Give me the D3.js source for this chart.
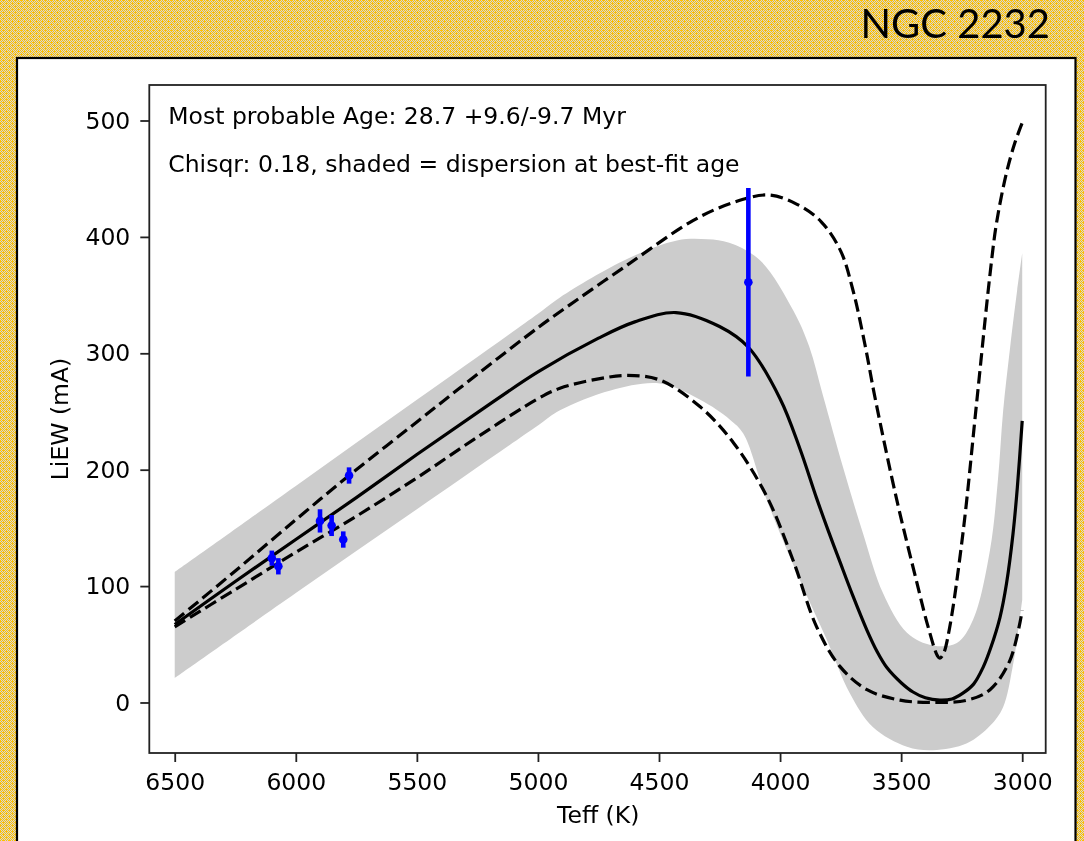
<!DOCTYPE html>
<html>
<head>
<meta charset="utf-8">
<script src="https://cdn.jsdelivr.net/npm/d3@7"></script>
<style>
  body { margin: 0; }
  text { font-family: "DejaVu Sans", sans-serif; }
  #my_dataviz { position: relative; width: 1084px; height: 841px; }
  #my_dataviz canvas, #my_dataviz svg { position: absolute; left: 0; top: 0; display: block; }
</style>
</head>
<body>
<div id="my_dataviz"></div>
<script>
// model curves, [Teff, LiEW]
var bestFit = [[6500,67],[6250,104],[6000,140],[5750,176],[5500,213],[5250,249],[5000,284],[4750,313],[4600,327],[4430,335],[4250,323],[4130,305],[4000,261],[3918,218],[3850,176],[3800,147],[3753,121],[3700,92],[3641,62],[3600,44],[3559,30],[3500,17],[3451,9],[3400,4],[3340,2],[3290,3],[3245,8],[3200,16],[3162,30],[3130,47],[3092,73],[3065,102],[3038,145],[3020,185],[3000,242]];
var upperAge = [[6500,70],[6250,113],[6000,157],[5780,195],[5500,241],[5250,282],[5000,322],[4900,337],[4630,376],[4360,414],[4200,429],[4050,436],[3930,428],[3830,413],[3750,388],[3700,355],[3650,308],[3608,262],[3518,174],[3435,103],[3390,66],[3350,40],[3340,38],[3325,42],[3300,64],[3245,145],[3187,260],[3134,366],[3106,412],[3065,455],[3030,481],[3000,498]];
var lowerAge = [[6500,65],[6250,97],[6000,129],[5750,160],[5500,193],[5250,228],[5000,261],[4909,270],[4750,278],[4630,281],[4496,277],[4330,254],[4192,223],[4055,177],[3946,122],[3849,65],[3753,31],[3641,11],[3505,2],[3369,0],[3228,2],[3133,11],[3051,36],[3000,79]];

// shaded dispersion band
var bandHigh = [[6500,112],[6000,186],[5500,260],[5000,334],[4909,348],[4632,381],[4426,397],[4300,398],[4210,395],[4083,380],[3946,337],[3880,306],[3822,263],[3740,202],[3657,145],[3575,94],[3476,60],[3369,49],[3270,51],[3203,71],[3133,131],[3100,192],[3079,250],[3050,305],[3021,354],[3000,386]];
var bandLow = [[6500,21],[6000,94],[5500,166],[5000,238],[4909,251],[4700,268],[4496,274],[4330,260],[4207,243],[4152,231],[4055,174],[3918,105],[3807,54],[3712,8],[3617,-21],[3476,-38],[3369,-41],[3228,-35],[3133,-20],[3079,-4],[3040,30],[3021,55],[3000,88]];

// cluster stars
var teffObs = [6099, 6072, 5900, 5852, 5804, 5780, 4131];
var liObs   = [124, 117, 156, 152, 140, 195, 361];
var liErr   = [6.5, 7, 10, 9, 7, 7, 81];

var xTicks = [6500, 6000, 5500, 5000, 4500, 4000, 3500, 3000];
var yTicks = [0, 100, 200, 300, 400, 500];

var W = 1084, H = 841;
var margin = {top: 85, right: W - 1045.7, bottom: H - 753, left: 149.3},
    width = W - margin.left - margin.right,
    height = H - margin.top - margin.bottom;

// checkered yellow slide background, pixel by pixel
var cv = d3.select("#my_dataviz").append("canvas")
    .attr("width", W).attr("height", H).node();
var ctx = cv.getContext("2d");
var img = ctx.createImageData(W, H);
for (var py = 0; py < H; py++) {
  for (var px = 0; px < W; px++) {
    var k = (py * W + px) * 4;
    var yellow = (px + py) % 2 === 0 || (px % 6 === 3 && py % 6 === 0) || (px % 6 === 0 && py % 6 === 3);
    img.data[k]     = yellow ? 255 : 210;
    img.data[k + 1] = yellow ? 192 : 214;
    img.data[k + 2] = yellow ? 0 : 220;
    img.data[k + 3] = 255;
  }
}
ctx.putImageData(img, 0, 0);

var root = d3.select("#my_dataviz")
  .append("svg")
    .attr("width", W)
    .attr("height", H);

root.append("text")
    .attr("x", 1050).attr("y", 38)
    .attr("text-anchor", "end")
    .style("font-family", "Lato, 'Open Sans', sans-serif")
    .style("font-size", "40px")
    .attr("fill", "#000")
    .text("NGC 2232");

root.append("rect")
    .attr("x", 17).attr("y", 58)
    .attr("width", 1058.5).attr("height", 800)
    .attr("fill", "#fff")
    .attr("stroke", "#000")
    .attr("stroke-width", 2.2);

var svg = root.append("g")
    .attr("transform", "translate(" + margin.left + "," + margin.top + ")");

var x = d3.scaleLinear()
    .domain([6605, 2903])
    .range([0, width]);
var y = d3.scaleLinear()
    .domain([-43.4, 530.5])
    .range([height, 0]);

var line = d3.line()
    .x(function(d) { return x(d[0]); })
    .y(function(d) { return y(d[1]); })
    .curve(d3.curveCatmullRom.alpha(0.5));

// band = upper edge then lower edge back
svg.append("path")
    .attr("d", line(bandHigh) + "L" + line(bandLow.slice().reverse()).slice(1) + "Z")
    .attr("fill", "#cccccc")
    .attr("stroke", "none");

svg.append("path")
    .attr("d", line(bestFit))
    .attr("fill", "none")
    .attr("stroke", "#000")
    .attr("stroke-width", 3.2);

[upperAge, lowerAge].forEach(function(s) {
  svg.append("path")
      .attr("d", line(s))
      .attr("fill", "none")
      .attr("stroke", "#000")
      .attr("stroke-width", 3.2)
      .attr("stroke-dasharray", "12.5,5.5");
});

// error bars
teffObs.forEach(function(t, i) {
  svg.append("line")
      .attr("x1", x(t)).attr("x2", x(t))
      .attr("y1", y(liObs[i] - liErr[i]))
      .attr("y2", y(liObs[i] + liErr[i]))
      .attr("stroke", "#0000ff")
      .attr("stroke-width", 4.6);
  svg.append("circle")
      .attr("cx", x(t)).attr("cy", y(liObs[i]))
      .attr("r", 4.3)
      .attr("fill", "#0000ff");
});

// axes
var xAxis = svg.append("g")
    .attr("transform", "translate(0," + height + ")")
    .call(d3.axisBottom(x).tickValues(xTicks).tickFormat(d3.format("d")).tickSize(9).tickPadding(11));
var yAxis = svg.append("g")
    .call(d3.axisLeft(y).tickValues(yTicks).tickFormat(d3.format("d")).tickSize(9).tickPadding(10));

[xAxis, yAxis].forEach(function(a) {
  a.select(".domain").remove();
  a.selectAll("line").attr("stroke", "#222").attr("stroke-width", 1.8);
  a.selectAll("text")
      .attr("fill", "#000")
      .style("font-family", "'DejaVu Sans', sans-serif")
      .style("font-size", "23.5px");
});

svg.append("rect")
    .attr("width", width).attr("height", height)
    .attr("fill", "none")
    .attr("stroke", "#222")
    .attr("stroke-width", 1.8);

// labels
svg.append("text")
    .attr("x", width / 2 + 0.7).attr("y", 823 - margin.top)
    .attr("text-anchor", "middle")
    .style("font-size", "23.5px")
    .text("Teff (K)");

svg.append("text")
    .attr("transform", "translate(" + (68 - margin.left) + "," + (419 - margin.top) + ") rotate(-90)")
    .attr("text-anchor", "middle")
    .style("font-size", "23.5px")
    .text("LiEW (mA)");

svg.append("text")
    .attr("x", 168.3 - margin.left).attr("y", 124.3 - margin.top)
    .style("font-size", "23.5px")
    .text("Most probable Age: 28.7 +9.6/-9.7 Myr");
svg.append("text")
    .attr("x", 168.3 - margin.left).attr("y", 171.7 - margin.top)
    .style("font-size", "23.5px")
    .text("Chisqr: 0.18, shaded = dispersion at best-fit age");
</script>
</body>
</html>
